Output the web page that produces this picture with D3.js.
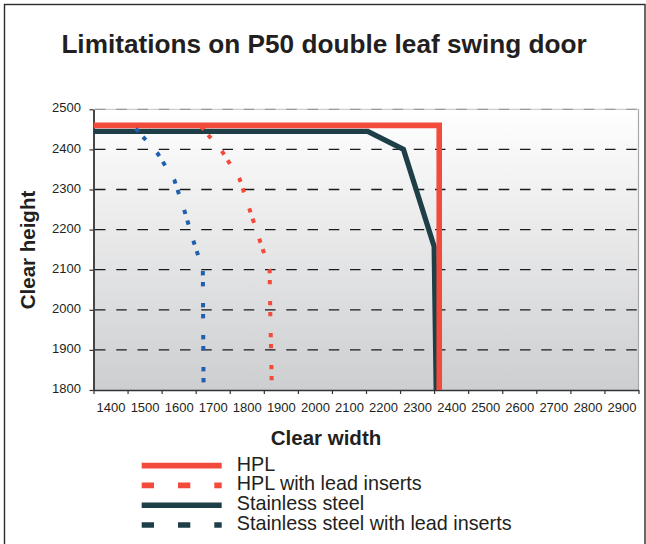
<!DOCTYPE html>
<html>
<head>
<meta charset="utf-8">
<script src="https://cdn.jsdelivr.net/npm/d3@7"></script>
<style>
  html, body { margin: 0; padding: 0; background: #fff; }
  svg { display: block; font-family: "Liberation Sans", Arial, sans-serif; }
</style>
</head>
<body>
<svg id="chart" width="646" height="544"></svg>
<script>
// ---------- data ----------
const chartTitle = "Limitations on P50 double leaf swing door";
const xTitle = "Clear width";
const yTitle = "Clear height";
const xTickLabels = [1400, 1500, 1600, 1700, 1800, 1900, 2000, 2100, 2200, 2300, 2400, 2500, 2600, 2700, 2800, 2900];
const yTickLabels = [1800, 1900, 2000, 2100, 2200, 2300, 2400, 2500];
const seriesNames = ["HPL", "HPL with lead inserts", "Stainless steel", "Stainless steel with lead inserts"];

// HPL (solid red)
const hplWidth  = [1350, 2365, 2365];
const hplHeight = [2460, 2460, 1800];
// HPL with lead inserts (dotted red)
const hplLeadWidth  = [1666, 1729, 1779, 1808, 1837, 1867, 1869, 1873, 1874];
const hplLeadHeight = [2457, 2393, 2326, 2251, 2176, 2100, 1993, 1828, 1805];
// Stainless steel (solid dark)
const ssWidth  = [1350, 2155, 2260, 2350, 2356];
const ssHeight = [2445, 2445, 2400, 2158, 1800];
// Stainless steel with lead inserts (dotted blue in plot)
const ssLeadWidth  = [1474, 1539, 1588, 1617, 1644, 1671, 1673, 1674];
const ssLeadHeight = [2452, 2389, 2322, 2247, 2170, 2100, 1823, 1805];

// ---------- layout ----------
const svg = d3.select("#chart");
const L = 93.5, R = 638.5, T = 109.3, B = 390;
const x = d3.scaleLinear().domain([1350, 2950]).range([L, R]);
const y = d3.scaleLinear().domain([1800, 2500]).range([B, T]);

const RED = "#f24a3b", DARK = "#1f3f48", BLUE = "#1f5fae", TXT = "#231f20";

// outer frame
svg.append("rect").attr("x", 4.5).attr("y", 4.5).attr("width", 640.5).attr("height", 600)
  .attr("fill", "none").attr("stroke", "#2b2b2b").attr("stroke-width", 1.4);

// title
svg.append("text").attr("x", 324).attr("y", 53).attr("text-anchor", "middle")
  .attr("font-size", 26.2).attr("font-weight", "bold").attr("fill", TXT).text(chartTitle);

// background gradient
const defs = svg.append("defs");
const grad = defs.append("linearGradient").attr("id", "bg").attr("x1", 0).attr("y1", 0).attr("x2", 0).attr("y2", 1);
grad.append("stop").attr("offset", "0%").attr("stop-color", "#ffffff");
grad.append("stop").attr("offset", "100%").attr("stop-color", "#cdced0");
defs.append("clipPath").attr("id", "clip").append("rect")
  .attr("x", L).attr("y", T - 10).attr("width", R - L).attr("height", B - T + 10);

svg.append("rect").attr("x", L).attr("y", T).attr("width", R - L).attr("height", B - T).attr("fill", "url(#bg)");
// top & right plot border
svg.append("line").attr("x1", L).attr("x2", R).attr("y1", T).attr("y2", T).attr("stroke", "#cfcfcf").attr("stroke-width", 1.2);
svg.append("line").attr("x1", R).attr("x2", R).attr("y1", T).attr("y2", B).attr("stroke", "#a8a8a8").attr("stroke-width", 1.2);

// gridlines
svg.append("g").selectAll("line").data(yTickLabels.filter(d => d > 1800)).join("line")
  .attr("x1", L + 1.5).attr("x2", R).attr("y1", d => y(d)).attr("y2", d => y(d))
  .attr("stroke", d => d === 2500 ? "#9a9a9a" : "#1a1a1a").attr("stroke-width", 1.3)
  .attr("stroke-dasharray", "10.5,10.75");

// axes
const xTickVals = d3.range(1350, 2951, 100);
const gx = svg.append("g").attr("transform", `translate(0,${B})`)
  .call(d3.axisBottom(x).tickValues(xTickVals).tickSize(4).tickSizeOuter(0).tickFormat(""));
gx.select(".domain").attr("stroke", "#333").attr("stroke-width", 1.6);
gx.selectAll(".tick line").attr("stroke", "#333").attr("stroke-width", 1.2);

const gxl = svg.append("g").attr("transform", `translate(0,${B})`)
  .call(d3.axisBottom(x).tickValues(xTickLabels).tickSize(0).tickPadding(13).tickFormat(d3.format("d")));
gxl.select(".domain").remove();
gxl.selectAll("text").attr("font-size", 13).attr("fill", TXT).attr("font-family", "Liberation Sans, Arial, sans-serif");

const gy = svg.append("g").attr("transform", `translate(${L},0)`)
  .call(d3.axisLeft(y).tickValues(yTickLabels).tickSize(4).tickSizeOuter(0).tickPadding(8.5).tickFormat(d3.format("d")));
gy.select(".domain").attr("stroke", "#333").attr("stroke-width", 1.8);
gy.selectAll(".tick line").attr("stroke", "#333").attr("stroke-width", 1.2);
gy.selectAll("text").attr("font-size", 13).attr("fill", TXT).attr("font-family", "Liberation Sans, Arial, sans-serif").attr("dy", "0.2em");

// axis titles
svg.append("text").attr("x", 326).attr("y", 445).attr("text-anchor", "middle")
  .attr("font-size", 20.5).attr("font-weight", "bold").attr("fill", TXT).text(xTitle);
svg.append("text").attr("transform", "translate(35,250) rotate(-90)").attr("text-anchor", "middle")
  .attr("font-size", 20.5).attr("font-weight", "bold").attr("fill", TXT).text(yTitle);

// series
const line = d3.line().x(d => x(d[0])).y(d => y(d[1]));
const zipS = (a, b) => a.map((v, i) => [v, b[i]]);
const plot = svg.append("g").attr("clip-path", "url(#clip)");

plot.append("path").datum(zipS(ssWidth, ssHeight)).attr("d", line)
  .attr("fill", "none").attr("stroke", DARK).attr("stroke-width", 5.2).attr("stroke-linejoin", "miter");
plot.append("path").datum(zipS(hplWidth, hplHeight)).attr("d", line)
  .attr("fill", "none").attr("stroke", RED).attr("stroke-width", 5.6).attr("stroke-linejoin", "miter");
const dotPattern = "4.3,6.7,4.3,16.7";
plot.append("path").datum(zipS(hplLeadWidth, hplLeadHeight)).attr("d", line)
  .attr("fill", "none").attr("stroke", RED).attr("stroke-width", 4).attr("stroke-dasharray", dotPattern);
plot.append("path").datum(zipS(ssLeadWidth, ssLeadHeight)).attr("d", line)
  .attr("fill", "none").attr("stroke", BLUE).attr("stroke-width", 4).attr("stroke-dasharray", dotPattern);

// legend
const legendColors = [RED, RED, DARK, DARK];
const legendDash = [null, "12.3,24", null, "12.3,24"];
const legendY = d3.scaleLinear().domain([0, 3]).range([465.7, 525]);
const lg = svg.append("g");
seriesNames.forEach((name, i) => {
  lg.append("line").attr("x1", 141.7).attr("x2", 221.7).attr("y1", legendY(i)).attr("y2", legendY(i))
    .attr("stroke", legendColors[i]).attr("stroke-width", 5.7)
    .attr("stroke-dasharray", legendDash[i]);
  lg.append("text").attr("x", 236.7).attr("y", legendY(i) + 4.8)
    .attr("font-size", 19.8).attr("fill", TXT).text(name);
});
</script>
</body>
</html>
